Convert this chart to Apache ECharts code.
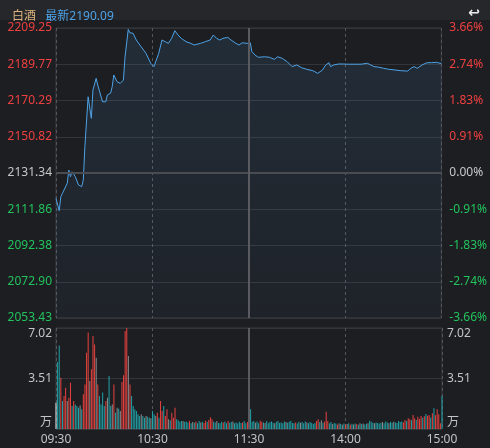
<!DOCTYPE html>
<html>
<head>
<meta charset="utf-8">
<script src="https://cdn.jsdelivr.net/npm/echarts@6/dist/echarts.min.js"></script>
<style>
  html, body { margin: 0; padding: 0; background: #1d1e22; }
  #chart { width: 490px; height: 448px; }
</style>
</head>
<body>
<div id="chart"></div>
<script>
// intraday price (minute index 0..240, 09:30 -> 15:00)
const priceMinutes = [
  0, 2, 3, 4, 5, 7, 8, 9, 10, 12, 14, 16, 17, 18, 20, 22, 23, 25, 26, 27,
  29, 31, 32, 34, 35, 36, 38, 40, 42, 43, 45, 46, 48, 50, 53, 56, 59, 61, 62, 64,
  66, 68, 70, 72, 74, 76, 78, 81, 84, 86, 90, 93, 96, 98, 100, 102, 104, 107, 109, 112,
  114, 116, 119, 120, 121, 122, 124, 126, 130, 133, 136, 138, 141, 144, 147, 150, 153, 156, 160, 163,
  164, 166, 168, 170, 171, 173, 176, 179, 182, 186, 190, 194, 198, 201, 204, 207, 211, 215, 219, 221,
  223, 225, 228, 231, 234, 237, 240
];
const priceValues = [
  2117.7, 2111.1, 2118.6, 2120.4, 2119.5, 2125.8, 2132.9, 2129.4, 2132.0, 2129.4, 2124.9, 2124.0, 2127.6, 2145.5, 2172.3, 2160.7, 2175.9, 2182.2, 2178.6, 2177.7,
  2169.6, 2169.6, 2173.3, 2174.2, 2177.7, 2184.0, 2180.4, 2179.5, 2181.3, 2193.8, 2208.5, 2206.7, 2206.4, 2202.8, 2199.2, 2195.7, 2190.3, 2188.5, 2189.4, 2195.7,
  2202.8, 2201.9, 2201.0, 2203.7, 2207.8, 2205.5, 2203.7, 2201.9, 2201.0, 2200.1, 2201.0, 2201.9, 2202.8, 2205.5, 2203.7, 2202.8, 2203.7, 2204.2, 2202.8, 2201.0,
  2200.1, 2201.3, 2201.0, 2201.3, 2201.3, 2196.5, 2194.7, 2193.5, 2193.8, 2193.5, 2192.4, 2193.8, 2192.9, 2191.1, 2188.5, 2189.4, 2187.9, 2187.1, 2186.3, 2184.9,
  2184.5, 2186.7, 2189.4, 2190.6, 2188.5, 2189.4, 2189.9, 2189.9, 2189.8, 2189.8, 2189.8, 2190.3, 2188.5, 2188.2, 2187.6, 2187.1, 2186.7, 2186.3, 2186.1, 2187.6,
  2188.5, 2187.6, 2189.4, 2190.6, 2190.6, 2190.8, 2190.09
];

// volume per minute (万), and bar colour code: r up, t down, n flat, w auction
const volumes = [
  1.83, 4.66, 5.81, 3.57, 1.95, 2.29, 2.87, 1.95, 2.18, 3.22,
  1.60, 1.95, 1.71, 1.60, 1.48, 1.64, 1.37, 2.41, 3.10, 5.30,
  6.70, 3.34, 4.15, 6.46, 5.88, 4.96, 3.10, 2.29, 1.71, 2.53,
  1.60, 1.95, 2.18, 3.68, 1.60, 1.71, 3.10, 1.13, 1.48, 1.40,
  1.25, 3.27, 3.73, 6.81, 7.02, 5.07, 3.10, 2.29, 1.60, 1.37,
  1.25, 1.02, 0.90, 1.02, 0.90, 0.79, 0.90, 0.85, 0.79, 0.75,
  1.25, 1.02, 0.90, 1.13, 0.79, 1.95, 1.25, 1.60, 0.90, 1.37,
  0.68, 0.60, 1.13, 0.79, 1.48, 0.68, 0.60, 0.50, 0.55, 0.55,
  0.50, 0.52, 0.45, 0.58, 0.40, 0.48, 0.44, 0.52, 0.40, 0.55,
  0.46, 0.50, 0.42, 0.58, 0.48, 0.62, 0.81, 0.67, 0.50, 0.46,
  0.55, 0.42, 0.40, 0.50, 0.45, 0.52, 0.40, 0.55, 0.44, 0.48,
  0.52, 0.40, 0.46, 0.38, 0.50, 0.42, 0.46, 0.55, 0.40, 0.48,
  0.52, 1.37, 0.50, 0.55, 0.44, 0.52, 0.40, 0.58, 0.50, 0.46,
  0.42, 0.55, 0.40, 0.48, 0.52, 0.44, 0.40, 0.50, 0.55, 0.42,
  0.46, 0.40, 0.52, 0.48, 0.44, 0.50, 0.55, 0.42, 0.40, 0.46,
  0.38, 0.50, 0.44, 0.48, 0.40, 0.52, 0.45, 0.40, 0.48, 0.42,
  0.35, 0.42, 0.55, 0.67, 0.48, 0.60, 0.44, 0.52, 1.20, 0.55,
  0.40, 0.48, 0.35, 0.42, 0.38, 0.32, 0.40, 0.35, 0.30, 0.38,
  0.32, 0.35, 0.40, 0.30, 0.36, 0.32, 0.38, 0.35, 0.30, 0.40,
  0.34, 0.38, 0.32, 0.36, 0.40, 0.58, 0.50, 0.44, 0.40, 0.46,
  0.42, 0.38, 0.44, 0.48, 0.40, 0.52, 0.45, 0.40, 0.48, 0.44,
  0.50, 0.46, 0.42, 0.55, 0.48, 0.52, 0.45, 0.63, 0.55, 0.74,
  0.67, 0.60, 0.97, 0.75, 0.63, 0.85, 0.70, 0.90, 0.78, 0.88,
  1.05, 0.92, 0.97, 0.80, 1.10, 1.44, 0.95, 1.37, 1.02, 0.40,
  2.29
];
const volumeDirs = [
  "wttrtrrnrr", "trtttntrrr", "rnrrrnrttt", "trnttnrtnt", "nrrrrnrttt",
  "tttnttnttn", "ttnrtrrtrr", "ntrrrttttn", "tttrtntrtt", "ntrrtrrrtt",
  "ntttrttrtt", "ntttttrttr", "ttttnttrrt", "ntttttnttt", "tttntttttr",
  "ttntttnttt", "ttrrtntrrr", "ttnttrntnt", "rntrtntrtn", "tnttntttnt",
  "tttntttntt", "ntttttrrtr", "rtrrtrrrtr", "trrtrtrrrr", "t"
].join("").split("");

const priceTicks = ["2053.43", "2072.90", "2092.38", "2111.86", "2131.34", "2150.82", "2170.29", "2189.77", "2209.25"];
const pctTicks = ["-3.66%", "-2.74%", "-1.83%", "-0.91%", "0.00%", "0.91%", "1.83%", "2.74%", "3.66%"];
const volTicks = ["万", "3.51", "7.02"];
const timeTickValues = [0, 60, 120, 180, 240];
const timeTickLabels = ["09:30", "10:30", "11:30", "14:00", "15:00"];

const priceMin = 2053.43;
const priceMax = 2209.25;
const prevClose = 2131.34;
const volMax = 7.02;

const FONT = "'Noto Sans', 'Noto Sans CJK SC', sans-serif";
const RED = "#ef4040";
const GREEN = "#22c35c";
const TEAL = "#1fa3a8";
const GRID_LINE = "#34353a";
const dirColor = { r: "#e9423f", t: TEAL, n: "#8c8c8c", w: "#e6e6e6" };

const tickColor = (v) => {
  const n = Number(v);
  if (n > 4) return RED;
  if (n < 4) return GREEN;
  return "#c8c8c8";
};

const chart = echarts.init(document.getElementById("chart"), null, { renderer: "canvas" });

const option = {
  backgroundColor: "#1d1e22",
  animation: false,
  textStyle: { fontFamily: FONT },
  graphic: [
    { type: "rect", left: 0, top: 0, shape: { width: 490, height: 20 }, style: { fill: "#26272b" }, z: -1 },
  ],
  title: [
    {
      left: 7,
      top: 3,
      text: "{a|白酒}  {b|最新2190.09}",
      textStyle: {
        fontWeight: "normal",
        rich: {
          a: { color: "#dcb37e", fontSize: 12, fontWeight: "normal", fontFamily: FONT },
          b: { color: "#4da2e6", fontSize: 12, fontWeight: "normal", fontFamily: FONT },
        },
      },
    },
    {
      right: 5,
      top: 1,
      text: "↩",
      textStyle: { color: "#e8e8e8", fontSize: 14, fontWeight: "bold", fontFamily: "DejaVu Sans" },
    },
  ],
  grid: [
    { left: 56, right: 48, top: 28, height: 290, show: true, borderColor: "#3a3b40", borderWidth: 1 },
    { left: 56, right: 48, top: 328, height: 101, show: true, borderColor: "#3a3b40", borderWidth: 1 },
  ],
  xAxis: [
    {
      gridIndex: 0,
      type: "value",
      min: 0,
      max: 240,
      interval: 60,
      axisLine: { show: false },
      axisTick: { show: false },
      axisLabel: { show: false },
      splitLine: { show: true, lineStyle: { color: "#55565b", type: [3, 3], width: 1 } },
    },
    {
      gridIndex: 1,
      type: "value",
      min: 0,
      max: 240,
      interval: 60,
      axisLine: { show: false },
      axisTick: { show: false },
      axisLabel: {
        color: "#c4c4c4",
        fontSize: 12,
        fontFamily: FONT,
        margin: 5,
        showMinLabel: true,
        showMaxLabel: true,
        formatter: (v) => timeTickLabels[timeTickValues.indexOf(Number(v))] || "",
      },
      splitLine: { show: true, lineStyle: { color: "#55565b", type: [3, 3], width: 1 } },
    },
  ],
  yAxis: [
    {
      gridIndex: 0,
      position: "left",
      type: "value",
      min: 0,
      max: 8,
      interval: 1,
      axisLine: { show: false },
      axisTick: { show: false },
      axisLabel: {
        margin: 4,
        fontSize: 12,
        fontFamily: FONT,
        color: tickColor,
        formatter: (v) => priceTicks[Number(v)],
      },
      splitLine: { show: true, lineStyle: { color: GRID_LINE, width: 1 } },
    },
    {
      gridIndex: 0,
      position: "right",
      type: "value",
      min: 0,
      max: 8,
      interval: 1,
      axisLine: { show: false },
      axisTick: { show: false },
      axisLabel: {
        margin: 8,
        fontSize: 12,
        fontFamily: FONT,
        color: tickColor,
        formatter: (v) => pctTicks[Number(v)],
      },
      splitLine: { show: false },
    },
    {
      gridIndex: 0,
      type: "value",
      min: priceMin,
      max: priceMax,
      show: false,
      splitLine: { show: false },
    },
    {
      gridIndex: 1,
      position: "left",
      type: "value",
      min: 0,
      max: volMax,
      interval: volMax / 2,
      axisLine: { show: false },
      axisTick: { show: false },
      axisLabel: {
        margin: 4,
        fontSize: 12,
        fontFamily: FONT,
        color: "#c4c4c4",
        verticalAlignMinLabel: "bottom",
        verticalAlignMaxLabel: "top",
        formatter: (v, i) => volTicks[i],
      },
      splitLine: { show: true, lineStyle: { color: GRID_LINE, width: 1 } },
    },
    {
      gridIndex: 1,
      position: "right",
      type: "value",
      min: 0,
      max: volMax,
      interval: volMax / 2,
      axisLine: { show: false },
      axisTick: { show: false },
      axisLabel: {
        margin: 5,
        fontSize: 12,
        fontFamily: FONT,
        color: "#c4c4c4",
        verticalAlignMinLabel: "bottom",
        verticalAlignMaxLabel: "top",
        formatter: (v, i) => volTicks[i],
      },
      splitLine: { show: false },
    },
  ],
  series: [
    {
      name: "白酒",
      type: "line",
      xAxisIndex: 0,
      yAxisIndex: 2,
      data: priceMinutes.map((m, i) => [m, priceValues[i]]),
      showSymbol: false,
      lineStyle: { width: 1, color: "#4da2e6" },
      areaStyle: {
        origin: "start",
        color: new echarts.graphic.LinearGradient(0, 0, 0, 1, [
          { offset: 0, color: "rgba(77,162,230,0.16)" },
          { offset: 1, color: "rgba(77,162,230,0.05)" },
        ]),
      },
      markLine: {
        silent: true,
        symbol: "none",
        label: { show: false },
        data: [
          { yAxis: prevClose, lineStyle: { color: "#4b4c51", width: 2, type: "solid" } },
          { xAxis: 120, lineStyle: { color: "#5a5b60", width: 2, type: "solid" } },
        ],
      },
      z: 3,
    },
    {
      name: "成交量",
      type: "bar",
      xAxisIndex: 1,
      yAxisIndex: 3,
      barWidth: 1,
      data: volumes.map((v, i) => ({ value: [i, v], itemStyle: { color: dirColor[volumeDirs[i]] } })),
      markLine: {
        silent: true,
        symbol: "none",
        label: { show: false },
        data: [{ xAxis: 120, lineStyle: { color: "#5a5b60", width: 2, type: "solid" } }],
      },
    },
  ],
};

chart.setOption(option);
</script>
</body>
</html>
